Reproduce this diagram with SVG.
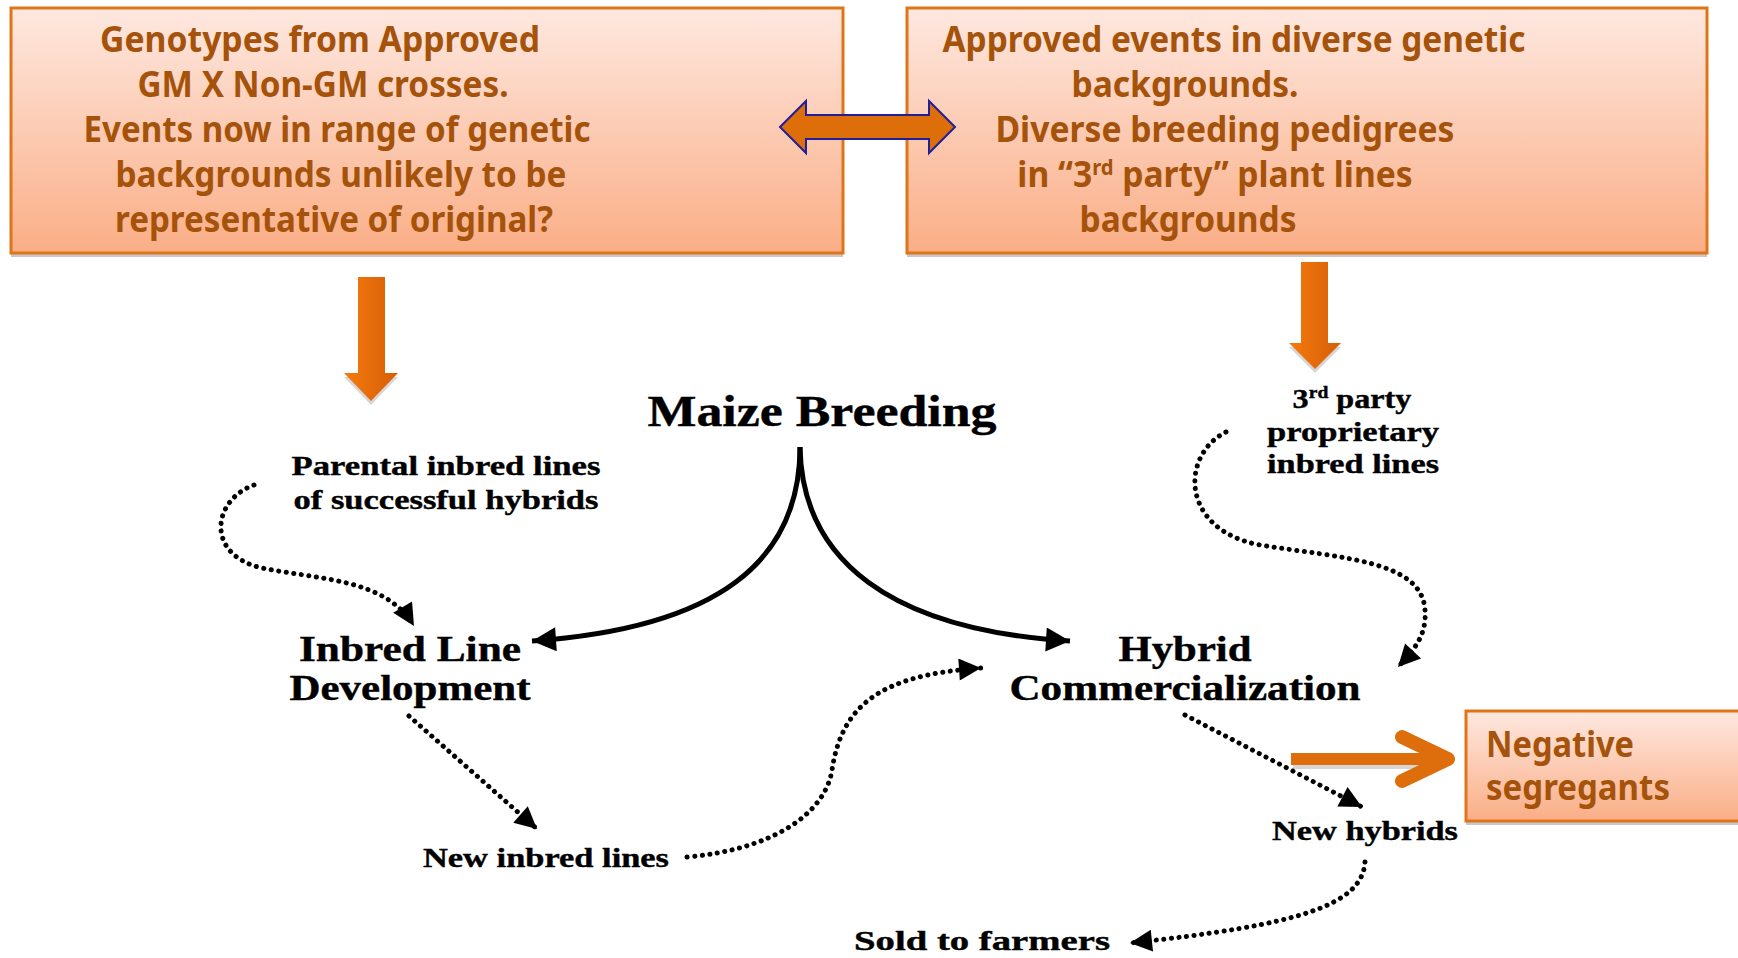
<svg xmlns="http://www.w3.org/2000/svg" width="1738" height="958" viewBox="0 0 1738 958">
<defs>
<linearGradient id="boxg" x1="0" y1="0" x2="0" y2="1">
<stop offset="0" stop-color="#FEE8E0"/>
<stop offset="1" stop-color="#FAAE86"/>
</linearGradient>
<linearGradient id="arrg" x1="0" y1="0" x2="1" y2="0">
<stop offset="0" stop-color="#F57A0E"/>
<stop offset="1" stop-color="#D65E06"/>
</linearGradient>
<marker id="ah" viewBox="0 0 10 10" refX="10" refY="5" markerWidth="30" markerHeight="24" markerUnits="userSpaceOnUse" orient="auto">
<path d="M0,0 L10,5 L0,10 Z" fill="#000"/>
</marker>
<marker id="ahs" viewBox="0 0 10 10" refX="10" refY="5" markerWidth="26" markerHeight="22" markerUnits="userSpaceOnUse" orient="auto">
<path d="M0,0 L10,5 L0,10 Z" fill="#000"/>
</marker>
</defs>
<style>
.box{fill:url(#boxg);stroke:#E07418;stroke-width:3}
.shadow{fill:#C8C8C8}
.ot{font-family:"Noto Sans","Open Sans",sans-serif;font-weight:700;font-size:35px;fill:#A5520A;text-anchor:middle}
.bt{font-family:"Liberation Serif","Times New Roman",serif;font-weight:700;fill:#000;text-anchor:middle;stroke:#000;stroke-width:0.4}
.solid{fill:none;stroke:#000;stroke-width:5}
.dot{fill:none;stroke:#000;stroke-width:5;stroke-linecap:round;stroke-dasharray:0.1 7.5}
</style>
<rect width="1738" height="958" fill="#fff"/>

<g id="box-left">
<rect class="shadow" x="11" y="12" width="832" height="245"/>
<rect class="box" x="11" y="8" width="832" height="245"/>
<text class="ot" x="320" y="52" textLength="440" lengthAdjust="spacingAndGlyphs">Genotypes from Approved</text>
<text class="ot" x="323" y="97" textLength="371" lengthAdjust="spacingAndGlyphs">GM X Non-GM crosses.</text>
<text class="ot" x="337" y="142" textLength="507" lengthAdjust="spacingAndGlyphs">Events now in range of genetic</text>
<text class="ot" x="341" y="187" textLength="451" lengthAdjust="spacingAndGlyphs">backgrounds unlikely to be</text>
<text class="ot" x="334" y="232" textLength="438" lengthAdjust="spacingAndGlyphs">representative of original?</text>
</g>

<g id="box-right">
<rect class="shadow" x="907" y="12" width="800" height="245"/>
<rect class="box" x="907" y="8" width="800" height="245"/>
<text class="ot" x="1234" y="52" textLength="583" lengthAdjust="spacingAndGlyphs">Approved events in diverse genetic</text>
<text class="ot" x="1185" y="97" textLength="227" lengthAdjust="spacingAndGlyphs">backgrounds.</text>
<text class="ot" x="1225" y="142" textLength="459" lengthAdjust="spacingAndGlyphs">Diverse breeding pedigrees</text>
<text class="ot" transform="translate(1215,187) scale(0.96,1)" x="0" y="0">in “3<tspan font-size="21" dy="-12">rd</tspan><tspan dy="12"> party” plant lines</tspan></text>
<text class="ot" x="1188" y="232" textLength="217" lengthAdjust="spacingAndGlyphs">backgrounds</text>
</g>

<g id="box-negative">
<rect class="shadow" x="1466" y="715" width="280" height="110"/>
<rect class="box" x="1466" y="711" width="280" height="110"/>
<text class="ot" x="1486" y="757" style="text-anchor:start;font-size:35px" textLength="148" lengthAdjust="spacingAndGlyphs">Negative</text>
<text class="ot" x="1486" y="800" style="text-anchor:start;font-size:35px" textLength="184" lengthAdjust="spacingAndGlyphs">segregants</text>
</g>

<g id="maize-breeding"><text class="bt" x="822" y="426" font-size="44" textLength="349" lengthAdjust="spacingAndGlyphs">Maize Breeding</text></g>
<g id="parental"><text class="bt" x="446" y="475" font-size="28" textLength="309" lengthAdjust="spacingAndGlyphs">Parental inbred lines</text>
<text class="bt" x="446" y="509" font-size="28" textLength="305" lengthAdjust="spacingAndGlyphs">of successful hybrids</text></g>
<g id="inbred-dev"><text class="bt" x="410" y="661" font-size="35" textLength="222" lengthAdjust="spacingAndGlyphs">Inbred Line</text>
<text class="bt" x="410" y="700" font-size="35" textLength="241" lengthAdjust="spacingAndGlyphs">Development</text></g>
<g id="hybrid-comm"><text class="bt" x="1185" y="661" font-size="35" textLength="133" lengthAdjust="spacingAndGlyphs">Hybrid</text>
<text class="bt" x="1185" y="700" font-size="35" textLength="351" lengthAdjust="spacingAndGlyphs">Commercialization</text></g>
<g id="third-party"><text class="bt" transform="translate(1352,408) scale(1.15,1)" x="0" y="0" font-size="28">3<tspan font-size="17" dy="-10">rd</tspan><tspan dy="10"> party</tspan></text>
<text class="bt" x="1353" y="441" font-size="28" textLength="172" lengthAdjust="spacingAndGlyphs">proprietary</text>
<text class="bt" x="1353" y="473" font-size="28" textLength="172" lengthAdjust="spacingAndGlyphs">inbred lines</text></g>
<g id="new-inbred"><text class="bt" x="546" y="867" font-size="28" textLength="246" lengthAdjust="spacingAndGlyphs">New inbred lines</text></g>
<g id="new-hybrids"><text class="bt" x="1365" y="840" font-size="28" textLength="186" lengthAdjust="spacingAndGlyphs">New hybrids</text></g>
<g id="sold"><text class="bt" x="982" y="950" font-size="28" textLength="256" lengthAdjust="spacingAndGlyphs">Sold to farmers</text></g>

<g id="connectors">
<path d="M780,127 L806,101 V115 H929 V101 L955,127 L929,153 V139 H806 V153 Z" fill="#DE6E0A" stroke="#1F1F99" stroke-width="2"/>
<path d="M344,377 H398 L371,405 Z" fill="#BBBBBB" opacity="0.6"/>
<path d="M358,277 H385 V373 H398 L371,401 L344,373 H358 Z" fill="url(#arrg)"/>
<path d="M1289,347 H1341 L1315,373 Z" fill="#BBBBBB" opacity="0.6"/>
<path d="M1301,262 H1328 V343 H1341 L1315,369 L1289,343 H1301 Z" fill="url(#arrg)"/>
<line x1="1293" y1="763" x2="1440" y2="763" stroke="#BBBBBB" stroke-width="12" opacity="0.6"/>
<line x1="1291" y1="759" x2="1440" y2="759" stroke="#DD6E0B" stroke-width="12"/>
<polyline points="1402,737 1448,759 1402,781" fill="none" stroke="#DD6E0B" stroke-width="14" stroke-linecap="round" stroke-linejoin="round"/>
<path class="solid" d="M800,447 C800,560 720,628 532,641" marker-end="url(#ah)"/>
<path class="solid" d="M800,447 C802,560 890,630 1070,641" marker-end="url(#ah)"/>
<path class="dot" d="M254,485 C212,500 205,555 262,568 C320,580 385,578 414,626" marker-end="url(#ahs)"/>
<path class="dot" d="M409,716 L537,829" marker-end="url(#ahs)"/>
<path class="dot" d="M687,857 C770,850 825,815 832,770 C842,705 880,675 981,668" marker-end="url(#ahs)"/>
<path class="dot" d="M1226,432 C1180,455 1180,530 1260,545 C1340,558 1422,560 1425,610 C1427,635 1414,650 1398,667" marker-end="url(#ahs)"/>
<path class="dot" d="M1185,715 L1362,807" marker-end="url(#ahs)"/>
<path class="dot" d="M1365,862 C1362,905 1300,925 1130,943" marker-end="url(#ahs)"/>
</g>
</svg>
